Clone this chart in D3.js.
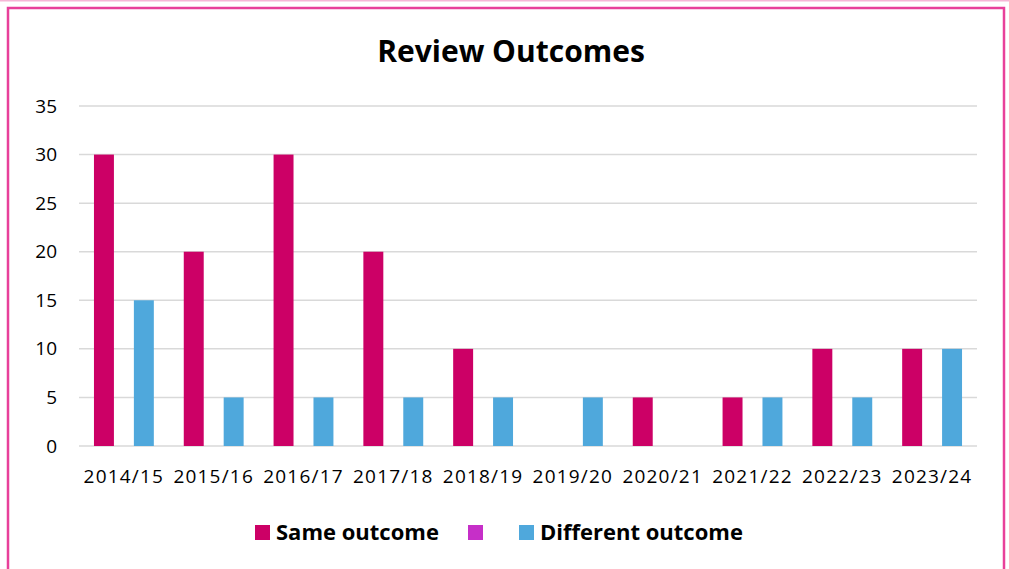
<!DOCTYPE html>
<html>
<head>
<meta charset="utf-8">
<script src="https://cdn.jsdelivr.net/npm/d3@7"></script>
<style>
  body { margin: 0; background: #fff; }
  svg { display: block; font-family: "Open Sans", sans-serif; }
</style>
</head>
<body>
<div id="chart"></div>
<script>
// data
const years = ["2014/15", "2015/16", "2016/17", "2017/18", "2018/19", "2019/20", "2020/21", "2021/22", "2022/23", "2023/24"];
const seriesNames = ["Same outcome", "", "Different outcome"];
const sameOutcome = [30, 20, 30, 20, 10, 0, 5, 5, 10, 10];
const blankSeries = [0, 0, 0, 0, 0, 0, 0, 0, 0, 0];
const differentOutcome = [15, 5, 5, 5, 5, 5, 0, 5, 5, 10];
const yTicks = [0, 5, 10, 15, 20, 25, 30, 35];
const colours = ["#CC0066", "#C62FC8", "#4FA8DC"];

const W = 1009, H = 569;
const margin = { top: 106, right: 32, bottom: 123, left: 79 },
    width = W - margin.left - margin.right,
    height = H - margin.top - margin.bottom;

const svg = d3.select("#chart").append("svg")
    .attr("width", W)
    .attr("height", H);

// frame
svg.append("rect")
    .attr("x", 0).attr("y", 0).attr("width", W).attr("height", 1.5)
    .attr("fill", "#F6B6D6");
svg.append("rect")
    .attr("x", 8).attr("y", 8)
    .attr("width", 996).attr("height", 600)
    .attr("fill", "none")
    .attr("stroke", "#E8409A")
    .attr("stroke-width", 2.5);

svg.append("text")
    .attr("x", 511).attr("y", 62)
    .attr("text-anchor", "middle")
    .attr("font-size", 30)
    .attr("font-weight", "bold")
    .text("Review Outcomes");

const g = svg.append("g")
    .attr("transform", "translate(" + margin.left + "," + margin.top + ")");

const x = d3.scaleBand().domain(years).range([0, width]).padding(0);
const xs = d3.scaleBand().domain(d3.range(seriesNames.length))
    .range([0, x.bandwidth()]).paddingOuter(0.75).paddingInner(0);
const y = d3.scaleLinear().domain([0, 35]).range([height, 0]);

// grid
g.selectAll(".grid")
    .data(yTicks)
    .join("line")
    .attr("x1", 0).attr("x2", width)
    .attr("y1", d => y(d)).attr("y2", d => y(d))
    .attr("stroke", "#D9D9D9")
    .attr("stroke-width", 1.5);

// y axis labels
const yAxis = g.append("g")
    .call(d3.axisLeft(y).tickValues(yTicks).tickSize(0).tickPadding(22));
yAxis.select(".domain").remove();
yAxis.selectAll("text").attr("font-size", 19).attr("fill", "#000")
    .attr("font-family", "'Open Sans', sans-serif");

// x axis labels
const xAxis = g.append("g")
    .attr("transform", "translate(0," + height + ")")
    .call(d3.axisBottom(x).tickSize(0).tickPadding(24));
xAxis.select(".domain").remove();
xAxis.selectAll("text").attr("font-size", 19).attr("fill", "#000")
    .attr("letter-spacing", 1.2)
    .attr("font-family", "'Open Sans', sans-serif");

// bars
const seriesValues = [sameOutcome, blankSeries, differentOutcome];
seriesValues.forEach((vals, si) => {
    g.append("g").selectAll("rect")
        .data(vals.map((v, i) => ({ year: years[i], value: v })))
        .join("rect")
        .attr("x", d => x(d.year) + xs(si))
        .attr("y", d => y(d.value))
        .attr("width", xs.bandwidth())
        .attr("height", d => y(0) - y(d.value))
        .attr("fill", colours[si]);
});

// legend
const legendX = [255, 468, 519];
const legend = svg.append("g").attr("transform", "translate(0,525)");
seriesNames.forEach((name, i) => {
    legend.append("rect")
        .attr("x", legendX[i]).attr("y", 0)
        .attr("width", 15).attr("height", 15)
        .attr("fill", colours[i]);
    legend.append("text")
        .attr("x", legendX[i] + 21).attr("y", 15)
        .attr("font-size", 22)
        .attr("font-weight", "bold")
        .text(name);
});
</script>
</body>
</html>
